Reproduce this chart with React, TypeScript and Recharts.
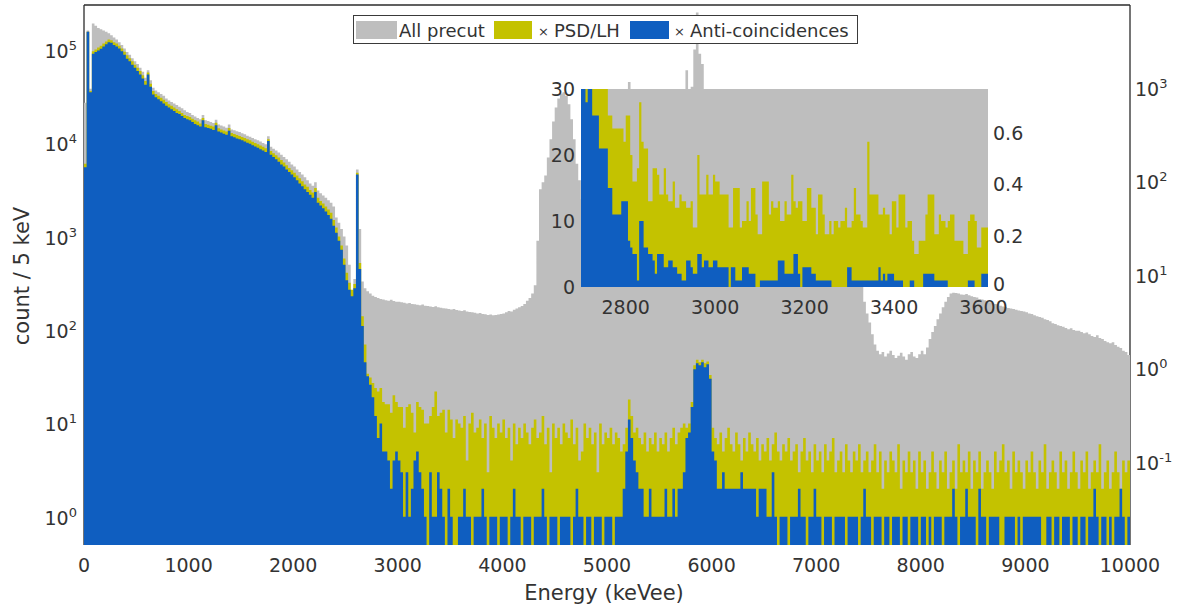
import React from 'react';
import { ComposedChart, Area, XAxis, YAxis, Legend } from 'recharts';

const FONT = '"DejaVu Sans", Verdana, sans-serif';
const TEXT = '#333333';
const AXIS = '#2b2b2b';
const GRAY = '#bebebe';
const YELLOW = '#c4c200';
const BLUE = '#0f5ec0';

// ---------- main histogram: 25 keV bins from 0 to 10000 keV (count / 5 keV) ----------
const BIN_KEV = 25;
const E_MAX = 10000;

const ALL_PRECUT = [
  27000, 160000, 38000, 190000, 180000, 170000, 165000, 160000, 155000, 150000, 142000, 135000, 128000, 120000, 112000, 103000, 94000, 88000, 81000, 75000,
  70000, 64000, 58000, 50000, 60000, 47000, 39000, 36500, 35000, 33500, 32000, 30000, 28500, 27500, 26500, 25500, 24500, 23500, 22500, 21500,
  21000, 20000, 19200, 18500, 18000, 20000, 17500, 17200, 16800, 16400, 17800, 15800, 15400, 15000, 14600, 15800, 14000, 13700, 13400, 13100,
  12700, 12400, 12000, 11700, 11300, 11000, 10700, 10400, 10000, 9700, 11800, 9100, 8700, 8300, 7900, 7500, 7100, 6700, 6300, 5900,
  5600, 5200, 4900, 4600, 4300, 4000, 3700, 3500, 3800, 3100, 2900, 2750, 2600, 2450, 2300, 2100, 1600, 1400, 1200, 1000,
  800, 500, 260, 350, 5200, 1200, 330, 280, 260, 245, 232, 225, 220, 215, 212, 208, 205, 210, 204, 200,
  200, 198, 195, 192, 194, 190, 188, 186, 184, 187, 182, 180, 178, 176, 179, 175, 173, 171, 170, 168,
  166, 168, 164, 162, 160, 163, 158, 156, 155, 153, 150, 152, 148, 147, 145, 146, 144, 145, 146, 148,
  150, 155, 160, 158, 165, 170, 175, 180, 190, 205, 220, 245, 300, 900, 3200, 3800, 4500, 7000, 11000, 17000,
  24000, 30000, 34000, 35000, 32000, 26000, 18000, 11000, 6000, 4000, 2500, 1500, 900, 700, 600, 550, 520, 500, 480, 470,
  460, 470, 480, 500, 560, 700, 1500, 10000, 45000, 15000, 2000, 800, 600, 520, 500, 490, 480, 470, 460, 460,
  450, 460, 470, 490, 520, 600, 800, 1500, 3000, 8000, 60000, 20000, 40000, 100000, 250000, 90000, 70000, 4000, 1000, 600,
  500, 480, 470, 460, 455, 450, 445, 440, 435, 430, 425, 422, 420, 418, 415, 412, 410, 408, 405, 402,
  400, 398, 395, 392, 390, 388, 385, 382, 380, 378, 375, 372, 370, 368, 365, 362, 360, 358, 355, 352,
  350, 348, 345, 342, 340, 338, 335, 332, 330, 328, 325, 322, 320, 318, 315, 312, 310, 305, 200, 150,
  120, 90, 70, 60, 55, 58, 52, 56, 60, 54, 50, 53, 57, 52, 48, 55, 58, 52, 50, 55,
  60, 55, 65, 80, 95, 110, 130, 150, 175, 200, 225, 245, 250, 248, 245, 240, 238, 242, 235, 230,
  225, 222, 215, 212, 208, 200, 198, 194, 190, 188, 182, 178, 175, 172, 170, 168, 165, 162, 160, 158,
  155, 150, 148, 144, 140, 138, 135, 130, 128, 124, 118, 116, 112, 110, 108, 105, 102, 104, 100, 98,
  98, 95, 92, 94, 90, 86, 84, 88, 82, 80, 76, 74, 72, 74, 69, 66, 64, 60, 58, 54,
];

const PSD_LH = [
  6000, 155000, 36000, 96000, 100000, 105000, 110000, 116000, 122000, 128000, 126000, 120000, 116000, 110000, 103000, 95000, 87000, 81000, 75000, 69000,
  64000, 59000, 53000, 46000, 57000, 43000, 36000, 33500, 32000, 30500, 29000, 27500, 26000, 25000, 24000, 23000, 22000, 21000, 20000, 19500,
  19000, 18200, 17500, 17000, 16200, 18500, 16000, 15700, 15300, 15000, 16500, 14400, 14000, 13600, 13300, 14500, 12800, 12500, 12200, 11900,
  11600, 11300, 11000, 10700, 10300, 10000, 9700, 9400, 9100, 8800, 11000, 8200, 7800, 7400, 7000, 6600, 6200, 5800, 5400, 5100,
  4800, 4500, 4200, 3900, 3600, 3400, 3150, 2950, 3300, 2600, 2400, 2250, 2100, 1950, 1800, 1500, 1250, 1000, 800, 580,
  410, 320, 270, 310, 4800, 520, 140, 70, 34, 31, 27, 24, 22, 24, 17, 16, 16, 13, 20, 17,
  15, 15, 9, 15, 16, 13, 8, 17, 15, 14, 10, 10, 12, 15, 22, 12, 13, 14, 8, 14,
  11, 7, 11, 10, 9, 12, 4, 10, 13, 8, 9, 11, 7, 10, 3, 12, 9, 7, 10, 8,
  11, 7, 9, 4, 10, 6, 9, 7, 10, 8, 6, 9, 11, 7, 8, 12, 6, 9, 3, 10,
  7, 9, 6, 10, 8, 7, 11, 6, 9, 4, 5, 10, 7, 9, 6, 8, 3, 10, 6, 8,
  7, 9, 6, 8, 7, 5, 6, 9, 18, 12, 8, 9, 7, 6, 8, 5, 7, 6, 8, 5,
  7, 6, 8, 5, 7, 9, 6, 8, 9, 10, 9, 10, 17, 42, 48, 45, 48, 44, 46, 33,
  9, 7, 6, 8, 5, 7, 9, 6, 5, 8, 6, 4, 7, 5, 8, 6, 5, 7, 4, 6,
  5, 7, 4, 6, 8, 5, 4, 6, 5, 7, 4, 5, 6, 3, 5, 7, 4, 5, 3, 6,
  4, 5, 3, 6, 4, 5, 7, 3, 4, 5, 3, 6, 4, 3, 5, 4, 6, 3, 4, 5,
  3, 4, 6, 3, 5, 2, 4, 3, 5, 4, 3, 6, 2, 4, 3, 5, 3, 4, 2, 5,
  3, 4, 2, 3, 5, 3, 2, 4, 3, 5, 2, 3, 4, 2, 6, 3, 4, 3, 5, 2,
  4, 3, 5, 2, 3, 4, 3, 2, 5, 3, 4, 6, 3, 4, 2, 5, 3, 4, 3, 2,
  4, 3, 5, 3, 2, 4, 3, 6, 2, 3, 4, 3, 2, 5, 3, 4, 2, 3, 5, 3,
  2, 4, 3, 5, 2, 3, 4, 3, 6, 2, 3, 4, 2, 3, 5, 3, 2, 4, 3, 4,
];

const ANTI_COINC = [
  5500, 155000, 35000, 90000, 94000, 98000, 102000, 108000, 114000, 120000, 118000, 112000, 108000, 103000, 96000, 88000, 80000, 75000, 69000, 64000,
  59000, 54000, 49000, 42000, 54000, 40000, 33000, 31000, 29500, 28000, 26500, 25000, 24000, 23000, 22000, 21000, 20500, 19500, 18500, 18000,
  17500, 16800, 16000, 15500, 15000, 17500, 14800, 14500, 14200, 13800, 15500, 13300, 13000, 12600, 12300, 13500, 11800, 11500, 11200, 11000,
  10700, 10400, 10100, 9800, 9500, 9200, 8900, 8600, 8300, 8000, 10500, 7500, 7100, 6700, 6300, 5900, 5600, 5200, 4900, 4600,
  4300, 4000, 3700, 3450, 3200, 3000, 2800, 2600, 3000, 2300, 2150, 2000, 1850, 1700, 1550, 1300, 1100, 900, 720, 500,
  340, 270, 230, 280, 4600, 450, 110, 45, 32, 26, 19, 12, 7, 10, 5, 5, 4, 2, 4, 5,
  4, 3, 1, 3, 1, 2, 4, 5, 3, 2, 1, 0, 3, 1, 1, 3, 2, 1, 0, 2,
  1, 0, 0, 1, 1, 2, 1, 1, 0, 1, 1, 1, 2, 1, 0, 1, 1, 1, 0, 1,
  1, 1, 0, 1, 2, 1, 1, 0, 1, 1, 1, 0, 1, 1, 1, 2, 1, 0, 1, 1,
  1, 0, 1, 1, 1, 1, 0, 1, 2, 1, 1, 0, 1, 1, 0, 1, 1, 1, 0, 1,
  1, 1, 0, 1, 1, 1, 2, 5, 11, 7, 4, 3, 2, 2, 1, 1, 2, 1, 1, 1,
  1, 1, 2, 1, 1, 2, 1, 2, 2, 3, 7, 8, 15, 38, 44, 42, 45, 40, 43, 30,
  5, 4, 2, 2, 3, 2, 2, 2, 2, 2, 2, 3, 2, 2, 2, 2, 2, 1, 2, 2,
  2, 1, 1, 3, 1, 0, 1, 1, 1, 0, 1, 1, 1, 2, 1, 1, 0, 1, 1, 2,
  1, 1, 0, 1, 1, 1, 0, 1, 1, 1, 1, 0, 1, 1, 1, 1, 0, 1, 2, 1,
  1, 0, 1, 1, 1, 0, 1, 1, 0, 1, 1, 1, 0, 1, 1, 0, 1, 1, 1, 0,
  1, 1, 0, 1, 0, 1, 1, 1, 0, 1, 1, 1, 2, 1, 0, 1, 1, 2, 1, 1,
  1, 0, 2, 1, 1, 0, 1, 1, 1, 1, 0, 0, 1, 1, 1, 1, 0, 1, 0, 1,
  1, 1, 1, 1, 1, 1, 0, 0, 1, 1, 0, 1, 1, 0, 1, 1, 1, 0, 1, 1,
  0, 1, 1, 0, 1, 1, 2, 1, 0, 1, 1, 0, 1, 0, 1, 1, 2, 1, 0, 1,
];

// ---------- inset: 5 keV bins from 2700 keV ----------
const INSET_START = 2700;
const INSET_BIN = 5;
const INSET_END = 3610;

const INSET_PSD = [
  34, 33, 31, 33, 35, 38, 36, 34, 33, 32,
  31, 30, 26, 26, 24, 24, 24, 24, 24, 22,
  26, 26, 20, 16, 16, 18, 28, 22, 21, 21,
  13, 13, 18, 18, 17, 14, 14, 18, 14, 13,
  13, 16, 12, 12, 14, 13, 13, 12, 12, 13,
  9, 9, 20, 14, 14, 14, 17, 14, 14, 17,
  16, 16, 14, 14, 14, 14, 9, 9, 15, 15,
  15, 9, 10, 10, 13, 10, 15, 15, 11, 8,
  8, 16, 16, 16, 11, 13, 12, 12, 13, 10,
  10, 13, 11, 11, 17, 13, 12, 13, 13, 10,
  10, 15, 15, 12, 12, 8, 14, 14, 11, 8,
  8, 10, 8, 10, 10, 9, 10, 10, 12, 9,
  9, 10, 15, 11, 11, 10, 9, 9, 22, 14,
  14, 14, 14, 11, 11, 12, 11, 11, 8, 13,
  13, 9, 14, 14, 14, 9, 10, 10, 7, 5,
  5, 7, 7, 7, 11, 14, 14, 14, 8, 8,
  11, 10, 10, 9, 10, 11, 11, 7, 7, 7,
  7, 5, 5, 10, 11, 11, 10, 6, 6, 9,
  9, 9,
];

const INSET_ANTI = [
  33, 32, 28, 32, 32, 26, 26, 26, 21, 21,
  21, 21, 15, 15, 11, 11, 11, 11, 13, 13,
  13, 7, 6, 5, 5, 1, 10, 10, 6, 6,
  5, 5, 4, 2, 5, 5, 5, 3, 3, 4,
  4, 3, 3, 2, 2, 1, 1, 4, 4, 3,
  2, 2, 5, 5, 3, 4, 4, 3, 3, 4,
  4, 3, 3, 3, 3, 3, 0, 3, 3, 1,
  1, 1, 3, 3, 3, 2, 2, 2, 0, 0,
  1, 1, 1, 1, 1, 1, 1, 1, 4, 4,
  4, 2, 2, 2, 2, 5, 5, 2, 0, 3,
  3, 3, 3, 2, 2, 1, 1, 1, 1, 1,
  1, 1, 0, 0, 0, 0, 0, 0, 0, 3,
  3, 1, 1, 1, 1, 1, 1, 1, 1, 1,
  1, 1, 1, 3, 1, 2, 1, 2, 2, 2,
  1, 1, 1, 1, 0, 0, 0, 1, 1, 0,
  0, 0, 0, 2, 2, 2, 2, 2, 1, 1,
  1, 1, 1, 1, 0, 0, 0, 0, 0, 0,
  0, 0, 0, 1, 1, 1, 0, 0, 0, 2,
  2, 2,
];

// ---------- axes ----------
const X_TICKS = [0, 1000, 2000, 3000, 4000, 5000, 6000, 7000, 8000, 9000, 10000];
const LEFT_TICKS = [1, 10, 100, 1000, 10000, 100000];
const RIGHT_TICKS = [0.1, 1, 10, 100, 1000];
const INSET_X_TICKS = [2800, 3000, 3200, 3400, 3600];
const INSET_LEFT_TICKS = [0, 10, 20, 30];
const INSET_RIGHT_TICKS = [0, 0.2, 0.4, 0.6];

const LEFT_DOMAIN: [number, number] = [0.5, 300000];
const RIGHT_FACTOR = 39; // left (count / 5 keV) to right-axis units
const RIGHT_DOMAIN: [number, number] = [LEFT_DOMAIN[0] / RIGHT_FACTOR, LEFT_DOMAIN[1] / RIGHT_FACTOR];
const INSET_LEFT_DOMAIN: [number, number] = [0, 30];
const INSET_RIGHT_DOMAIN: [number, number] = [0, 30 / RIGHT_FACTOR];

const EMPTY_BIN = 0.2; // zero-count bins on a log axis: drawn below the axis floor
const logSafe = (v: number) => (v > 0 ? v : EMPTY_BIN);

const minorTicks = (lo: number, hi: number) => {
  const out: number[] = [];
  for (let n = -3; n <= 6; n++) {
    for (let m = 2; m <= 9; m++) {
      const v = m * Math.pow(10, n);
      if (v > lo && v < hi) out.push(v);
    }
  }
  return out;
};
const LEFT_MINOR = minorTicks(LEFT_DOMAIN[0], LEFT_DOMAIN[1]);
const RIGHT_MINOR = minorTicks(RIGHT_DOMAIN[0], RIGHT_DOMAIN[1]);

// ---------- tables ----------
const mainData = ALL_PRECUT.map((v, i) => ({
  e: i * BIN_KEV,
  all: v,
  psd: logSafe(PSD_LH[i]),
  anti: logSafe(ANTI_COINC[i]),
}));
mainData.push({ ...mainData[mainData.length - 1], e: E_MAX });

const insetData = INSET_PSD.map((v, i) => {
  const e = INSET_START + i * INSET_BIN;
  return { e, all: ALL_PRECUT[Math.floor(e / BIN_KEV)], psd: v, anti: INSET_ANTI[i] };
});
insetData.push({ ...insetData[insetData.length - 1], e: INSET_END });

// ---------- tick renderers ----------
const PowTick = (props: any) => {
  const { x, y, payload, side } = props;
  const exp = Math.round(Math.log10(payload.value));
  return (
    <text x={x} y={y + 8} textAnchor={side === 'left' ? 'end' : 'start'} fontSize={19} fill={TEXT} fontFamily={FONT}>
      10
      <tspan dy={-8} fontSize={13}>{exp}</tspan>
    </text>
  );
};

const BottomTick = (props: any) => {
  const { x, y, payload } = props;
  return (
    <text x={x} y={y + 14} textAnchor="middle" fontSize={19} fill={TEXT} fontFamily={FONT}>
      {payload.value}
    </text>
  );
};

const SideTick = (props: any) => {
  const { x, y, payload, side, lift } = props;
  const up = lift && payload.value === 0 ? lift : 0;
  return (
    <text x={x} y={y + 7 - up} textAnchor={side === 'left' ? 'end' : 'start'} fontSize={19} fill={TEXT} fontFamily={FONT}>
      {payload.value}
    </text>
  );
};

const LegendBox = () => (
  <svg width={506} height={30} style={{ display: 'block' }}>
    <rect x={0.5} y={0.5} width={504} height={28} fill="#ffffff" stroke="#3a3a3a" strokeWidth={1} />
    <rect x={3} y={6} width={41} height={18} fill={GRAY} />
    <text x={46} y={22} fontSize={18} fill={TEXT} fontFamily={FONT}>All precut</text>
    <rect x={141} y={6} width={38} height={18} fill={YELLOW} />
    <text x={185} y={21} fontSize={13} fill={TEXT} fontFamily={FONT}>×</text>
    <text x={201} y={22} fontSize={18} fill={TEXT} fontFamily={FONT}>PSD/LH</text>
    <rect x={277} y={6} width={39} height={18} fill={BLUE} />
    <text x={321} y={21} fontSize={13} fill={TEXT} fontFamily={FONT}>×</text>
    <text x={337} y={22} fontSize={18} fill={TEXT} fontFamily={FONT}>Anti-coincidences</text>
  </svg>
);

const tickStroke = { stroke: AXIS, strokeWidth: 1 };
const frameLine = { stroke: AXIS, strokeWidth: 1.3 };

const W = 1179;
const H = 609;
const PLOT_MARGIN = { top: 5, right: 49, bottom: 64, left: 84 };

export default function App() {
  return (
    <div style={{ position: 'absolute', left: 0, top: 0, width: W, height: H, background: '#ffffff', fontFamily: FONT }}>
      {/* frame layer: box lines and inward ticks, drawn underneath the histogram */}
      <div style={{ position: 'absolute', left: 0, top: 0 }}>
        <ComposedChart width={W} height={H} data={mainData} margin={PLOT_MARGIN}>
          <XAxis xAxisId="top" dataKey="e" type="number" orientation="top" mirror domain={[0, E_MAX]} allowDataOverflow
            ticks={X_TICKS} interval={0} tickSize={10} tick={false} axisLine={frameLine} tickLine={tickStroke} />
          <YAxis yAxisId="leftMajor" orientation="left" mirror type="number" scale="log" domain={LEFT_DOMAIN} allowDataOverflow
            ticks={LEFT_TICKS} interval={0} tickSize={10} tick={false} axisLine={frameLine} tickLine={tickStroke} />
          <YAxis yAxisId="leftMinor" orientation="left" mirror type="number" scale="log" domain={LEFT_DOMAIN} allowDataOverflow
            ticks={LEFT_MINOR} interval={0} tickSize={5} tick={false} axisLine={false} tickLine={tickStroke} />
          <YAxis yAxisId="rightMajor" orientation="right" mirror type="number" scale="log" domain={RIGHT_DOMAIN} allowDataOverflow
            ticks={RIGHT_TICKS} interval={0} tickSize={10} tick={false} axisLine={frameLine} tickLine={tickStroke} />
          <YAxis yAxisId="rightMinor" orientation="right" mirror type="number" scale="log" domain={RIGHT_DOMAIN} allowDataOverflow
            ticks={RIGHT_MINOR} interval={0} tickSize={5} tick={false} axisLine={false} tickLine={tickStroke} />
        </ComposedChart>
      </div>

      {/* histogram layer */}
      <div style={{ position: 'absolute', left: 0, top: 0 }}>
        <ComposedChart width={W} height={H} data={mainData} margin={{ top: 5, right: 0, bottom: 0, left: 0 }}>
          <XAxis xAxisId="bottom" dataKey="e" type="number" domain={[0, E_MAX]} allowDataOverflow ticks={X_TICKS} interval={0}
            height={64} tickSize={0} tickMargin={13} axisLine={false} tickLine={false} tick={(p: any) => <BottomTick {...p} />} />
          <YAxis yAxisId="left" orientation="left" type="number" scale="log" domain={LEFT_DOMAIN} allowDataOverflow ticks={LEFT_TICKS}
            interval={0} width={84} tickSize={0} tickMargin={7} axisLine={false} tickLine={false}
            tick={(p: any) => <PowTick {...p} side="left" />} />
          <YAxis yAxisId="right" orientation="right" type="number" scale="log" domain={RIGHT_DOMAIN} allowDataOverflow ticks={RIGHT_TICKS}
            interval={0} width={49} tickSize={0} tickMargin={5} axisLine={false} tickLine={false}
            tick={(p: any) => <PowTick {...p} side="right" />} />
          <Area xAxisId="bottom" yAxisId="left" type="stepAfter" dataKey="all" name="All precut" fill={GRAY} fillOpacity={1}
            stroke="none" baseValue={LEFT_DOMAIN[0]} dot={false} activeDot={false} isAnimationActive={false} />
          <Area xAxisId="bottom" yAxisId="left" type="stepAfter" dataKey="psd" name="× PSD/LH" fill={YELLOW} fillOpacity={1}
            stroke="none" baseValue={LEFT_DOMAIN[0]} dot={false} activeDot={false} isAnimationActive={false} />
          <Area xAxisId="bottom" yAxisId="left" type="stepAfter" dataKey="anti" name="× Anti-coincidences" fill={BLUE} fillOpacity={1}
            stroke="none" baseValue={LEFT_DOMAIN[0]} dot={false} activeDot={false} isAnimationActive={false} />
          <Legend layout="horizontal" verticalAlign="middle" align="center" content={() => <LegendBox />}
            wrapperStyle={{ position: 'absolute', left: 353, top: 15, width: 506, height: 30 }} />
        </ComposedChart>
      </div>

      {/* inset */}
      <div style={{ position: 'absolute', left: 531, top: 70 }}>
        <ComposedChart width={500} height={250} data={insetData} margin={{ top: 19, right: 0, bottom: 0, left: 0 }}>
          <XAxis dataKey="e" type="number" domain={[INSET_START, INSET_END]} allowDataOverflow ticks={INSET_X_TICKS} interval={0}
            height={33} tickSize={0} tickMargin={13} axisLine={false} tickLine={false} tick={(p: any) => <BottomTick {...p} />} />
          <YAxis yAxisId="l" type="number" domain={INSET_LEFT_DOMAIN} allowDataOverflow ticks={INSET_LEFT_TICKS} interval={0}
            width={50} tickSize={0} tickMargin={6} axisLine={false} tickLine={false} tick={(p: any) => <SideTick {...p} side="left" />} />
          <YAxis yAxisId="r" orientation="right" type="number" domain={INSET_RIGHT_DOMAIN} allowDataOverflow ticks={INSET_RIGHT_TICKS}
            interval={0} width={43} tickSize={0} tickMargin={5} axisLine={false} tickLine={false}
            tick={(p: any) => <SideTick {...p} side="right" lift={3} />} />
          <Area yAxisId="l" type="stepAfter" dataKey="all" fill={GRAY} fillOpacity={1} stroke="none" baseValue={0}
            dot={false} activeDot={false} isAnimationActive={false} />
          <Area yAxisId="l" type="stepAfter" dataKey="psd" fill={YELLOW} fillOpacity={1} stroke="none" baseValue={0}
            dot={false} activeDot={false} isAnimationActive={false} />
          <Area yAxisId="l" type="stepAfter" dataKey="anti" fill={BLUE} fillOpacity={1} stroke="none" baseValue={0}
            dot={false} activeDot={false} isAnimationActive={false} />
        </ComposedChart>
      </div>

      <svg width={W} height={H} style={{ position: 'absolute', left: 0, top: 0, pointerEvents: 'none' }}>
        <text x={604} y={600} textAnchor="middle" fontSize={21} fill={TEXT} fontFamily={FONT}>Energy (keVee)</text>
        <text transform="translate(29,276) rotate(-90)" textAnchor="middle" fontSize={21} fill={TEXT} fontFamily={FONT}>count / 5 keV</text>
      </svg>
    </div>
  );
}
